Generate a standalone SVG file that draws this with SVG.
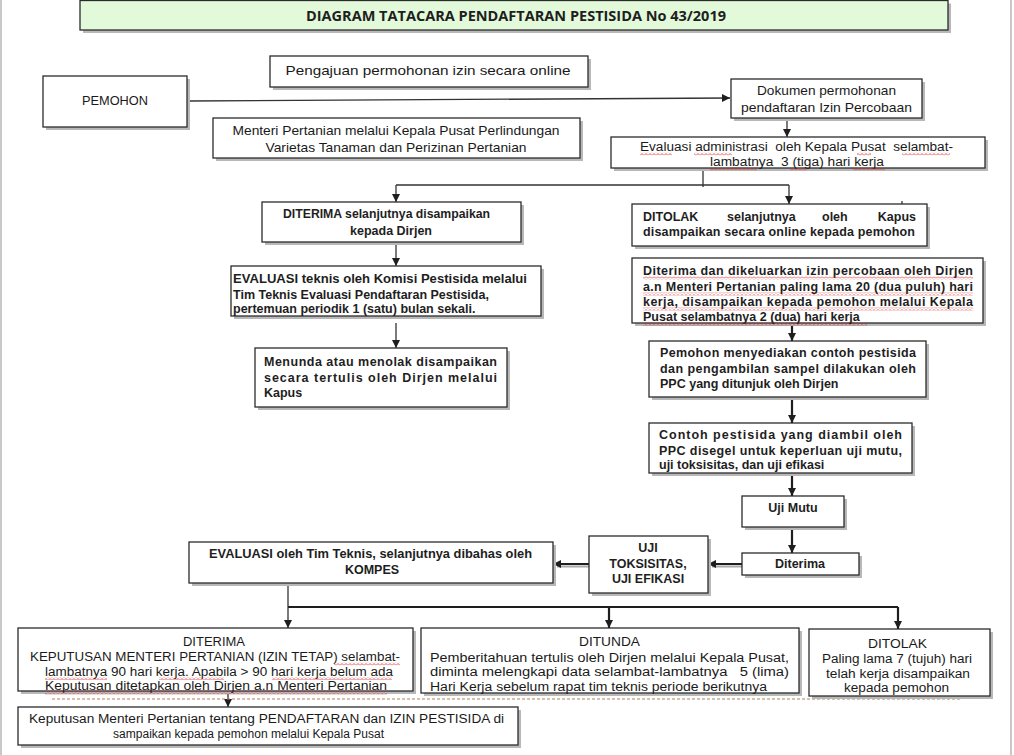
<svg xmlns="http://www.w3.org/2000/svg" width="1014" height="755" viewBox="0 0 1014 755">
<defs>
<marker id="ah" markerUnits="userSpaceOnUse" markerWidth="9" markerHeight="9" refX="8" refY="4" orient="auto">
<path d="M0,0 L8,4 L0,8 z" fill="#1e1e1e"/>
</marker>
<pattern id="wv" patternUnits="userSpaceOnUse" width="4" height="3">
<path d="M0,2.5 L2,0.5 L4,2.5" fill="none" stroke="#e02828" stroke-width="0.8"/>
</pattern>
<style>
.bx{fill:#fff;stroke:#2b2b2b;stroke-width:1.3}
.sh{fill:#b8b8b8}
.t{font-family:"Liberation Sans",Arial,sans-serif;font-size:12.5px;font-weight:bold;fill:#1e1e1e}
.c{font-family:"Liberation Sans",Arial,sans-serif;font-size:13px;fill:#1a1a1a}
.s{font-size:12.5px}
.m{text-anchor:middle}
.ln{stroke:#333;stroke-width:1.3;fill:none}
.lk{stroke:#1e1e1e;stroke-width:2.2;fill:none}
.lg{stroke:#a8a8a8;stroke-width:2;fill:none}
.wv{fill:url(#wv)}
</style>
</defs>
<rect width="1014" height="755" fill="#fff"/>
<line x1="1" y1="0" x2="1" y2="755" stroke="#c8c8c8" stroke-width="2"/>
<line x1="1011" y1="0" x2="1011" y2="755" stroke="#c8c8c8" stroke-width="2"/>

<g id="title">
<rect class="sh" x="83" y="3.5" width="868" height="29.5"/>
<rect x="80" y="0.5" width="868" height="29.5" fill="#e2f9da" stroke="#2b2b2b" stroke-width="1.3"/>
<text x="516" y="21" class="m" font-family="'Open Sans','Liberation Sans',sans-serif" font-size="13.5" font-weight="bold" fill="#1e1e1e" textLength="420" lengthAdjust="spacingAndGlyphs">DIAGRAM TATACARA  PENDAFTARAN PESTISIDA No 43/2019</text>
</g>

<g id="connectors">
<path class="ln" d="M187,101 L730,98" marker-end="url(#ah)"/>
<path class="ln" d="M787,118 V137" marker-end="url(#ah)"/>
<path class="ln" d="M703,168 V187 M396,185 H789"/>
<path class="ln" d="M396,185 V202" marker-end="url(#ah)"/>
<path class="ln" d="M789,185 V204" marker-end="url(#ah)"/>
<path class="ln" d="M902,201 V207" stroke="#777" stroke-width="1"/>
<path class="ln" d="M396,242 V266" marker-end="url(#ah)"/>
<path class="ln" d="M396,323 V348" marker-end="url(#ah)"/>
<path class="lk" d="M792,323 V341" marker-end="url(#ah)"/>
<path class="lk" d="M792,399 V423" marker-end="url(#ah)"/>
<path class="lk" d="M792,473 V496" marker-end="url(#ah)"/>
<path class="lk" d="M792,527 V553" marker-end="url(#ah)"/>
<path class="lg" d="M742,566.5 H712"/>
<path class="lk" d="M742,564 H708" stroke-width="2.5" marker-end="url(#ah)"/>
<path class="lg" d="M589,566.5 H557"/>
<path class="lk" d="M589,564 H553" stroke-width="2.5" marker-end="url(#ah)"/>
<path class="ln" d="M288,583 V607"/>
<path class="lk" d="M288,607 H898"/>
<path class="ln" d="M288,607 V628" marker-end="url(#ah)"/>
<path class="lk" d="M609,607 V628" marker-end="url(#ah)"/>
<path class="lk" d="M898,607 V629" marker-end="url(#ah)"/>
<path class="ln" d="M228,692 V707" marker-end="url(#ah)"/>
<path d="M52,699 H960" fill="none" stroke="#a8865e" stroke-width="1.2" stroke-dasharray="3,2"/>
</g>

<g id="pengajuan">
<rect class="sh" x="273" y="59" width="318" height="31"/>
<rect class="bx" x="270" y="56" width="318" height="31"/>
<text class="c m" x="428" y="75" textLength="285" lengthAdjust="spacingAndGlyphs">Pengajuan permohonan izin secara online</text>
</g>

<g id="pemohon">
<rect class="sh" x="46" y="79" width="144" height="51"/>
<rect class="bx" x="43" y="76" width="144" height="51"/>
<text class="c m" x="115" y="104.5" textLength="66" lengthAdjust="spacingAndGlyphs">PEMOHON</text>
</g>

<g id="dokumen">
<rect class="sh" x="734" y="82" width="191" height="39"/>
<rect class="bx" x="731" y="79" width="191" height="39"/>
<text class="c m" x="826.5" y="95" textLength="139" lengthAdjust="spacingAndGlyphs">Dokumen permohonan</text>
<text class="c m" x="826.5" y="111.5" textLength="171" lengthAdjust="spacingAndGlyphs">pendaftaran Izin Percobaan</text>
</g>

<g id="menteri">
<rect class="sh" x="216" y="121" width="367" height="40"/>
<rect class="bx" x="213" y="118" width="367" height="40"/>
<text class="c m" x="396" y="135" textLength="327" lengthAdjust="spacingAndGlyphs">Menteri Pertanian melalui Kepala Pusat Perlindungan</text>
<text class="c m" x="396" y="151.5" textLength="261" lengthAdjust="spacingAndGlyphs">Varietas Tanaman dan Perizinan Pertanian</text>
</g>

<g id="evaluasi-adm">
<rect class="sh" x="614" y="140" width="374" height="31"/>
<rect class="bx" x="611" y="137" width="374" height="31"/>
<text class="c s m" x="796.5" y="151" textLength="313" lengthAdjust="spacingAndGlyphs" xml:space="preserve">Evaluasi administrasi  oleh Kepala Pusat  selambat-</text>
<text class="c s m" x="797" y="166" textLength="174" lengthAdjust="spacingAndGlyphs" xml:space="preserve">lambatnya  3 (tiga) hari kerja</text>
<rect class="wv" x="640" y="152.5" width="32" height="3"/>
<rect class="wv" x="694" y="152.5" width="38" height="3"/>
<rect class="wv" x="857" y="152.5" width="14" height="3"/>
<rect class="wv" x="902" y="152.5" width="48" height="3"/>
<rect class="wv" x="710" y="167.5" width="47" height="3"/>
<rect class="wv" x="790" y="167.5" width="17" height="3"/>
<rect class="wv" x="853" y="167.5" width="32" height="3"/>
</g>

<g id="diterima-dirjen">
<rect class="sh" x="265" y="205" width="259" height="40"/>
<rect class="bx" x="262" y="202" width="259" height="40"/>
<text class="t m" x="386.5" y="218" textLength="207" lengthAdjust="spacingAndGlyphs">DITERIMA selanjutnya disampaikan</text>
<text class="t m" x="391" y="235">kepada Dirjen</text>
</g>

<g id="evaluasi-teknis">
<rect class="sh" x="234" y="269" width="310" height="50"/>
<rect class="bx" x="231" y="266" width="310" height="50"/>
<text class="t" x="233" y="283" textLength="294" lengthAdjust="spacingAndGlyphs">EVALUASI teknis oleh Komisi Pestisida melalui</text>
<text class="t" x="233" y="299">Tim Teknis Evaluasi Pendaftaran Pestisida,</text>
<text class="t" x="233" y="313">pertemuan periodik 1 (satu) bulan sekali.</text>
</g>

<g id="menunda">
<rect class="sh" x="258" y="351" width="252" height="59"/>
<rect class="bx" x="255" y="348" width="252" height="59"/>
<text class="t" x="264" y="366" textLength="233" lengthAdjust="spacing">Menunda atau menolak disampaikan</text>
<text class="t" x="264" y="382" textLength="233" lengthAdjust="spacing">secara tertulis oleh Dirjen melalui</text>
<text class="t" x="264" y="397">Kapus</text>
</g>

<g id="ditolak-kapus">
<rect class="sh" x="635" y="207" width="295" height="42"/>
<rect class="bx" x="632" y="204" width="295" height="42"/>
<text class="t" x="643" y="221">DITOLAK</text>
<text class="t" x="727" y="221">selanjutnya</text>
<text class="t" x="822" y="221">oleh</text>
<text class="t" x="916" y="221" text-anchor="end">Kapus</text>
<text class="t" x="643" y="236" textLength="272" lengthAdjust="spacing">disampaikan secara online kepada pemohon</text>
</g>

<g id="izin-percobaan">
<rect class="sh" x="635" y="261" width="351" height="65"/>
<rect class="bx" x="632" y="258" width="351" height="65"/>
<text class="t" x="643" y="275" textLength="330" lengthAdjust="spacing">Diterima dan dikeluarkan izin percobaan oleh Dirjen</text>
<text class="t" x="643" y="291" textLength="330" lengthAdjust="spacing">a.n Menteri Pertanian paling lama 20 (dua puluh) hari</text>
<text class="t" x="643" y="306" textLength="330" lengthAdjust="spacing">kerja, disampaikan kepada pemohon melalui Kepala</text>
<text class="t" x="643" y="321">Pusat selambatnya 2 (dua) hari kerja</text>
<rect class="wv" x="643" y="276.5" width="330" height="3"/>
<rect class="wv" x="643" y="292.5" width="330" height="3"/>
<rect class="wv" x="643" y="307.5" width="330" height="3"/>
<rect class="wv" x="643" y="322.5" width="224" height="3"/>
</g>

<g id="contoh-sedia">
<rect class="sh" x="652" y="344" width="277" height="56"/>
<rect class="bx" x="649" y="341" width="277" height="56"/>
<text class="t" x="660" y="357" textLength="256" lengthAdjust="spacing">Pemohon menyediakan contoh pestisida</text>
<text class="t" x="660" y="373" textLength="256" lengthAdjust="spacing">dan pengambilan sampel dilakukan oleh</text>
<text class="t" x="660" y="388">PPC yang ditunjuk oleh Dirjen</text>
</g>

<g id="contoh-disegel">
<rect class="sh" x="652" y="426" width="263" height="50"/>
<rect class="bx" x="649" y="423" width="263" height="50"/>
<text class="t" x="659" y="439" textLength="243" lengthAdjust="spacing">Contoh pestisida yang diambil oleh</text>
<text class="t" x="659" y="455" textLength="243" lengthAdjust="spacing">PPC disegel untuk keperluan uji mutu,</text>
<text class="t" x="659" y="469">uji toksisitas, dan uji efikasi</text>
</g>

<g id="uji-mutu">
<rect class="sh" x="745" y="499" width="102" height="31"/>
<rect class="bx" x="742" y="496" width="102" height="31"/>
<text class="t m" x="793" y="512">Uji Mutu</text>
</g>

<g id="diterima-mutu">
<rect class="sh" x="745" y="556" width="117" height="22"/>
<rect class="bx" x="742" y="553" width="117" height="22"/>
<text class="t m" x="800" y="568">Diterima</text>
</g>

<g id="uji-toksisitas">
<rect class="sh" x="592" y="539" width="119" height="57"/>
<rect class="bx" x="589" y="536" width="119" height="57"/>
<text class="t m" x="648" y="552">UJI</text>
<text class="t m" x="648" y="568">TOKSISITAS,</text>
<text class="t m" x="648" y="583">UJI EFIKASI</text>
</g>

<g id="evaluasi-tim">
<rect class="sh" x="192" y="545" width="364" height="41"/>
<rect class="bx" x="189" y="542" width="364" height="41"/>
<text class="t m" x="370.5" y="558" textLength="323" lengthAdjust="spacingAndGlyphs">EVALUASI oleh Tim Teknis, selanjutnya dibahas oleh</text>
<text class="t m" x="372" y="574">KOMPES</text>
</g>

<g id="diterima-tetap">
<rect class="sh" x="21" y="631" width="395" height="63"/>
<rect class="bx" x="18" y="628" width="395" height="63"/>
<text class="c s m" x="214" y="646" textLength="62" lengthAdjust="spacingAndGlyphs">DITERIMA</text>
<text class="c s m" x="215" y="661" textLength="370" lengthAdjust="spacingAndGlyphs">KEPUTUSAN MENTERI PERTANIAN (IZIN TETAP) selambat-</text>
<text class="c s m" x="219" y="675.5" textLength="348" lengthAdjust="spacingAndGlyphs">lambatnya 90 hari kerja. Apabila &gt; 90 hari kerja belum ada</text>
<text class="c s m" x="216" y="690" textLength="342" lengthAdjust="spacingAndGlyphs">Keputusan ditetapkan oleh Dirjen a.n Menteri Pertanian</text>
<rect class="wv" x="334" y="662.5" width="66" height="3"/>
<rect class="wv" x="45" y="677" width="62" height="3"/>
<rect class="wv" x="159" y="677" width="65" height="3"/>
<rect class="wv" x="272" y="677" width="120" height="3"/>
<rect class="wv" x="45" y="691.5" width="342" height="3"/>
</g>

<g id="ditunda">
<rect class="sh" x="424" y="631" width="378" height="65"/>
<rect class="bx" x="421" y="628" width="378" height="65"/>
<text class="c s m" x="609.5" y="646" textLength="61" lengthAdjust="spacingAndGlyphs">DITUNDA</text>
<text class="c s" x="430" y="661.5" textLength="359" lengthAdjust="spacingAndGlyphs">Pemberitahuan tertulis oleh Dirjen melalui Kepala Pusat,</text>
<text class="c s" x="430" y="676" textLength="359" lengthAdjust="spacingAndGlyphs" xml:space="preserve">diminta melengkapi data selambat-lambatnya   5 (lima)</text>
<text class="c s" x="430" y="690.5" textLength="337" lengthAdjust="spacingAndGlyphs">Hari Kerja sebelum rapat tim teknis periode berikutnya</text>
</g>

<g id="ditolak-akhir">
<rect class="sh" x="812" y="632" width="181" height="67"/>
<rect class="bx" x="809" y="629" width="181" height="67"/>
<text class="c m" x="897.5" y="648" textLength="59" lengthAdjust="spacingAndGlyphs">DITOLAK</text>
<text class="c s m" x="897" y="663" textLength="150" lengthAdjust="spacingAndGlyphs">Paling lama 7 (tujuh) hari</text>
<text class="c s m" x="898" y="677.5" textLength="144" lengthAdjust="spacingAndGlyphs">telah kerja disampaikan</text>
<text class="c s m" x="896.5" y="692" textLength="105" lengthAdjust="spacingAndGlyphs">kepada pemohon</text>
</g>

<g id="keputusan">
<rect class="sh" x="21" y="710" width="500" height="38"/>
<rect class="bx" x="18" y="707" width="500" height="38"/>
<text class="c s" x="29" y="723" textLength="475" lengthAdjust="spacingAndGlyphs">Keputusan Menteri Pertanian tentang PENDAFTARAN dan IZIN PESTISIDA di</text>
<text class="c s m" x="248.5" y="738" textLength="271" lengthAdjust="spacingAndGlyphs">sampaikan kepada pemohon melalui Kepala Pusat</text>
</g>
</svg>
